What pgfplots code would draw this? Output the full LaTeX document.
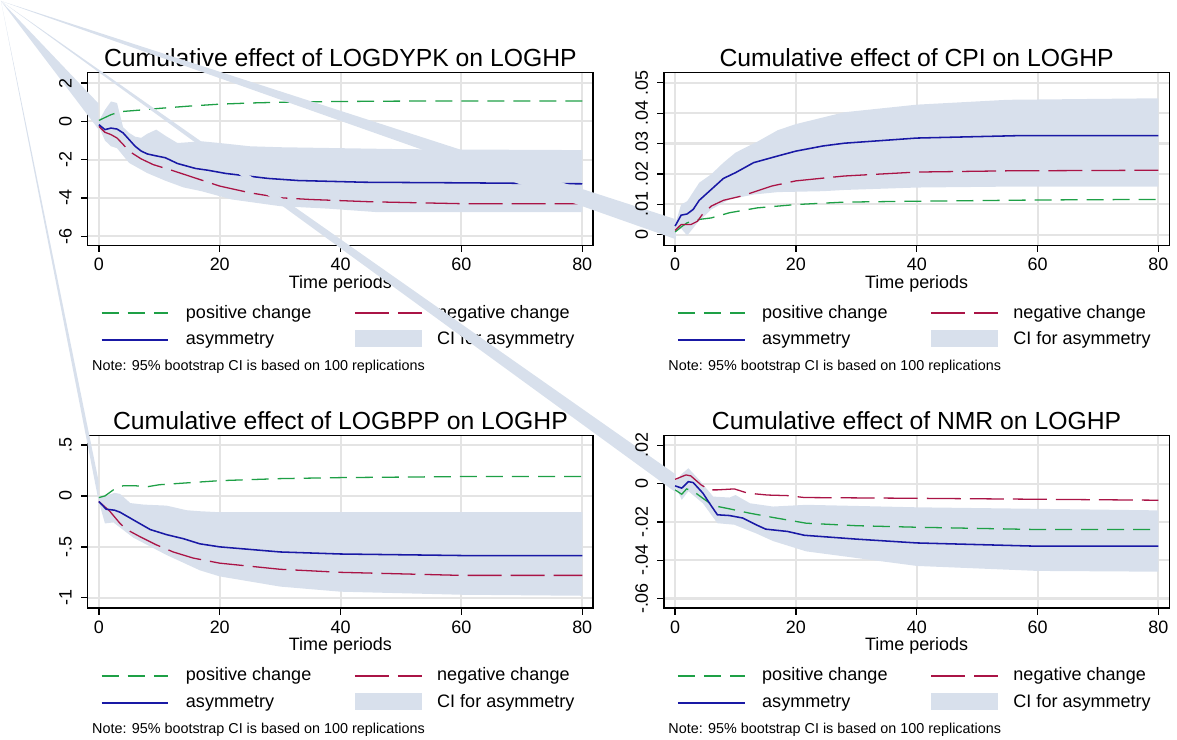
\documentclass[border=0pt]{standalone}
\usepackage{pgfplots}
\pgfplotsset{compat=1.18}
\usepgfplotslibrary{fillbetween}
\usepackage{fontspec}
\setmainfont{Liberation Sans}

\definecolor{poscol}{RGB}{30,160,70}
\definecolor{negcol}{RGB}{170,20,70}
\definecolor{asycol}{RGB}{25,25,165}
\definecolor{cicol}{RGB}{216,224,236}
\definecolor{gridcol}{RGB}{228,228,228}

\newcommand\tickfont{\fontsize{6.96}{8}\selectfont}
\newcommand\legfont{\fontsize{7}{8}\selectfont}
\newcommand\notefont{\fontsize{5.57}{6.5}\selectfont}

\tikzset{
  posl/.style={poscol, line width=0.5pt, dash pattern=on 6.6pt off 3.5pt},
  negl/.style={negcol, line width=0.5pt, dash pattern=on 13.2pt off 3.5pt},
  asyl/.style={asycol, line width=0.6pt},
  px/.style={x=0.0135939cm, y=-0.0135939cm},
}

\pgfplotsset{
  panel/.style={
    scale only axis, width=6.8921cm, height=2.3517cm,
    anchor=south west,
    xmin=-1.85, xmax=81.8,
    xtick={0,20,40,60,80}, xticklabels={0,20,40,60,80},
    tick align=outside, tick pos=left, major tick length=2.6pt,
    axis line style={line width=0.5pt},
    every tick/.style={black, line width=0.5pt},
    grid=major, major grid style={gridcol, line width=0.8pt},
    tick label style={font=\tickfont},
    xticklabel style={anchor=base}, xticklabel shift=7.3pt,
    yticklabel style={rotate=90, anchor=base}, yticklabel shift=3.6pt,
    scaled y ticks=false,
    every axis title shift=0pt,
    title style={font=\fontsize{9.6}{11}\selectfont, at={(0.5,1)}, anchor=base, yshift=2.4pt},
    xlabel={Time periods},
    xlabel style={font=\tickfont, at={(0.5,0)}, anchor=base, yshift=-16.6pt},
  },
}

% legend and note under a panel, in pixel units
\newcommand\legendblock[2]{%
  \begin{scope}[px, shift={(#1,#2)}]
    \draw[posl] (102,314) -- (169,314);
    \node[anchor=base west, font=\legfont, inner sep=0] at (186,319) {positive change};
    \draw[negl] (356,314) -- (423,314);
    \node[anchor=base west, font=\legfont, inner sep=0] at (438,319) {negative change};
    \draw[asyl] (102,341) -- (169,341);
    \node[anchor=base west, font=\legfont, inner sep=0] at (186,346) {asymmetry};
    \fill[cicol] (356,331) rectangle (423,348.5);
    \node[anchor=base west, font=\legfont, inner sep=0] at (438,346) {CI for asymmetry};
    \node[anchor=base west, font=\notefont, inner sep=0] at (92,372) {Note: 95\% bootstrap CI is based on 100 replications};
  \end{scope}}

\begin{document}
\begin{tikzpicture}
\begin{scope}[px]
  \path[use as bounding box] (0,0) rectangle (1177,742);
  % stray shading of the CI areas back to the image corner, as in the source
  \fill[cicol] (1,1) -- (99,104) -- (99,130) -- cycle;
\end{scope}

% ---- LOGDYPK
\begin{axis}[panel, at={(1.19626cm,-3.34410cm)},
  ymin=-6.47, ymax=2.54,
  ytick={-6,-4,-2,0,2}, yticklabels={-6,-4,-2,0,2},
  title={Cumulative effect of LOGDYPK on LOGHP}]
\addplot[draw=none, name path=ua, forget plot] coordinates {
 (0,0.02) (1,0.6) (2,1.04) (3,0.96) (4,-0.3) (5,-0.6) (6,-0.8) (7,-0.86) (8,-0.65)
 (9.5,-0.43) (11,-0.75) (13,-1.13) (17,-1.04) (20,-1.13) (25,-1.3) (30,-1.35)
 (40,-1.4) (50,-1.45) (60,-1.47) (80,-1.5)};
\addplot[draw=none, name path=la, forget plot] coordinates {
 (0,-0.26) (1,-1.0) (2,-1.3) (3,-1.4) (5,-2.17) (8,-2.7) (11,-3.1) (14,-3.45)
 (17,-3.65) (22,-4.08) (30,-4.43) (38,-4.56) (46,-4.74) (60,-4.74) (80,-4.74)};
\addplot[cicol, forget plot] fill between[of=ua and la];
\addplot[posl] coordinates {
 (0,0.05) (1,0.2) (2,0.35) (3,0.45) (4,0.52) (6,0.57) (8,0.62) (10,0.68) (15,0.8)
 (20,0.9) (25,0.96) (30,1.0) (40,1.04) (50,1.06) (60,1.06) (70,1.06) (80,1.06)};
\addplot[negl] coordinates {
 (0,-0.26) (1,-0.57) (2,-0.69) (3,-0.87) (4,-1.2) (5,-1.56) (7,-1.96) (9,-2.26)
 (12,-2.55) (15,-2.86) (20,-3.38) (25,-3.73) (30,-3.99) (35,-4.08) (45,-4.2)
 (60,-4.3) (80,-4.3)};
\addplot[asyl] coordinates {
 (0,-0.17) (1,-0.43) (2,-0.35) (3,-0.4) (4,-0.6) (5,-0.95) (6,-1.3) (7,-1.55)
 (8,-1.7) (9,-1.77) (11,-1.9) (13,-2.2) (16,-2.46) (18,-2.55) (21,-2.72)
 (28,-2.98) (33,-3.09) (44,-3.18) (60,-3.21) (80,-3.26)};
\end{axis}
\legendblock{0}{0}

\begin{scope}[px]
  \fill[cicol] (1,1) -- (678,220) -- (678,240) -- cycle;
\end{scope}

% ---- CPI
\begin{axis}[panel, at={(9.05354cm,-3.34410cm)},
  ymin=-0.0035, ymax=0.0533,
  ytick={0,0.01,0.02,0.03,0.04,0.05}, yticklabels={0,.01,.02,.03,.04,.05},
  title={Cumulative effect of CPI on LOGHP}]
\addplot[draw=none, name path=ub, forget plot] coordinates {
 (0,0.0033) (1,0.0099) (2,0.011) (4,0.0171) (6,0.0199) (8,0.0237) (10,0.027)
 (13.6,0.0306) (17,0.0344) (20,0.0364) (24.5,0.0386) (28,0.0403) (40,0.0428)
 (55,0.0444) (80,0.0449)};
\addplot[draw=none, name path=lb, forget plot] coordinates {
 (0,0.0006) (1,0.002) (2,-0.0003) (3.7,0.0039) (6,0.0083) (9,0.0116) (13,0.0132)
 (17,0.014) (24.5,0.0143) (28,0.0147) (40,0.0155) (55,0.0158) (80,0.0158)};
\addplot[cicol, forget plot] fill between[of=ub and lb];
\addplot[posl] coordinates {
 (0,0.0009) (1,0.0025) (2,0.0039) (4,0.005) (6,0.0055) (9,0.0072) (13.6,0.0088)
 (20,0.0099) (28,0.0107) (40,0.011) (60,0.0114) (80,0.0116)};
\addplot[negl] coordinates {
 (0,0.0014) (1,0.0033) (2.6,0.0033) (3.7,0.0044) (4.5,0.0066) (6,0.0094) (8,0.0113)
 (11,0.0127) (13,0.014) (16,0.016) (20,0.0177) (28,0.0193) (40,0.0206) (55,0.021)
 (80,0.0212)};
\addplot[asyl] coordinates {
 (0,0.0028) (1,0.0064) (2,0.0068) (3,0.0083) (4,0.0113) (6,0.0149) (8,0.0185)
 (10,0.0204) (13,0.0237) (17,0.0259) (20,0.0275) (24.5,0.0292) (28,0.0301)
 (40,0.0318) (57,0.0326) (80,0.0326)};
\end{axis}
\legendblock{578}{0}

\begin{scope}[px]
  \fill[cicol] (1,1) -- (99,483) -- (99,503) -- cycle;
\end{scope}

% ---- LOGBPP
\begin{axis}[panel, at={(1.19626cm,-8.29228cm)},
  ymin=-1.101, ymax=0.592,
  ytick={-1,-0.5,0,0.5}, yticklabels={-1,-.5,0,.5},
  title={Cumulative effect of LOGBPP on LOGHP}]
\addplot[draw=none, name path=uc, forget plot] coordinates {
 (0,-0.02) (1,0.0) (2.6,0.03) (3.5,0.02) (5.2,-0.07) (7.4,-0.085) (11.2,-0.095)
 (14.5,-0.14) (16.7,-0.15) (20,-0.16) (40,-0.16) (80,-0.16)};
\addplot[draw=none, name path=lc, forget plot] coordinates {
 (0,-0.06) (1,-0.27) (2.4,-0.26) (5.7,-0.41) (11.2,-0.58) (16.7,-0.73) (20,-0.79)
 (30,-0.89) (40,-0.94) (60,-0.97) (80,-0.98)};
\addplot[cicol, forget plot] fill between[of=uc and lc];
\addplot[posl] coordinates {
 (0,-0.016) (1,0) (2.4,0.06) (4,0.1) (6,0.1) (8,0.09) (10,0.11) (15,0.13) (20,0.15)
 (30,0.17) (40,0.18) (60,0.19) (80,0.19)};
\addplot[negl] coordinates {
 (0,-0.055) (1.8,-0.15) (3.5,-0.27) (4.6,-0.33) (6.8,-0.4) (9.5,-0.48) (12.3,-0.55)
 (15.6,-0.61) (20,-0.66) (30,-0.72) (40,-0.75) (60,-0.78) (80,-0.78)};
\addplot[asyl] coordinates {
 (0,-0.055) (1.2,-0.13) (2.6,-0.14) (3.5,-0.16) (5.7,-0.235) (8.5,-0.33) (11.2,-0.38)
 (14,-0.42) (16.7,-0.47) (20,-0.5) (30,-0.55) (40,-0.57) (60,-0.585) (80,-0.585)};
\end{axis}
\legendblock{0}{364}

\begin{scope}[px]
  \fill[cicol] (1,1) -- (678,476) -- (678,494) -- cycle;
\end{scope}

% ---- NMR
\begin{axis}[panel, at={(9.05354cm,-8.29228cm)},
  ymin=-0.065, ymax=0.025,
  ytick={-0.06,-0.04,-0.02,0,0.02}, yticklabels={-.06,-.04,-.02,0,.02},
  title={Cumulative effect of NMR on LOGHP}]
\addplot[draw=none, name path=ud, forget plot] coordinates {
 (0,0.001) (1.1,0.005) (2.2,0.008) (4,0.0019) (6.3,-0.0068) (9,-0.0073) (10,-0.006)
 (12.4,-0.0103) (16.2,-0.012) (21.7,-0.0111) (40,-0.0124) (80,-0.014)};
\addplot[draw=none, name path=ld, forget plot] coordinates {
 (0,-0.0012) (1.1,-0.0085) (2.2,-0.004) (4.6,-0.0103) (7,-0.0207) (9.8,-0.0215)
 (13.4,-0.026) (16.2,-0.030) (21.7,-0.0354) (40,-0.043) (60,-0.0456) (80,-0.046)};
\addplot[cicol, forget plot] fill between[of=ud and ld];
\addplot[posl] coordinates {
 (0,-0.0033) (1.1,-0.0056) (1.9,-0.0028) (3,-0.004) (4.6,-0.0077) (6.3,-0.0115)
 (9,-0.0132) (12.4,-0.0155) (16.2,-0.0177) (21.7,-0.0207) (30,-0.022) (40,-0.0228)
 (60,-0.024) (80,-0.024)};
\addplot[negl] coordinates {
 (0,0.0022) (1.8,0.0045) (2.6,0.004) (4.3,-0.0007) (5.7,-0.0033) (7,-0.0033)
 (9.8,-0.0028) (12,-0.005) (15.3,-0.006) (18.6,-0.0063) (21.4,-0.0073) (40,-0.0077)
 (80,-0.0087)};
\addplot[asyl] coordinates {
 (0,-0.0012) (1.1,-0.0024) (2.2,0.001) (3,0.0005) (4.6,-0.005) (5.7,-0.0103)
 (7,-0.0163) (9,-0.0167) (11.2,-0.018) (13.4,-0.0215) (15,-0.0238) (18.6,-0.025)
 (21.4,-0.027) (30,-0.029) (40,-0.031) (60,-0.0327) (80,-0.0327)};
\end{axis}
\legendblock{578}{364}
\end{tikzpicture}
\end{document}
